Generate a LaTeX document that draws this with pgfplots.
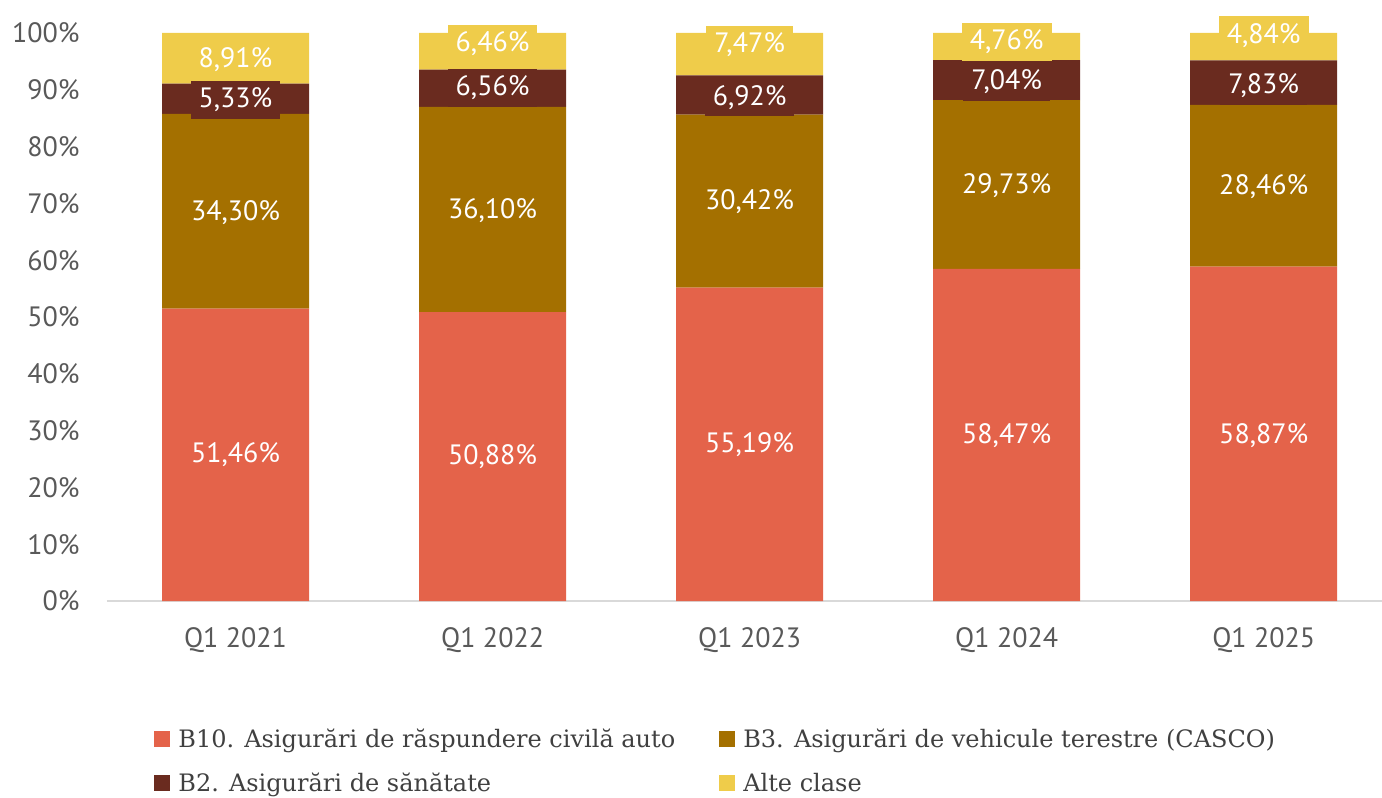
\documentclass[border=0pt]{standalone}
\usepackage{pgfplots}
\usepackage{pgfplotstable}
\pgfplotsset{compat=1.18}
\usepackage{fontspec}
\setmainfont{PT Sans}
\newfontfamily\legfont{DejaVu Serif}
\definecolor{cB10}{HTML}{E4634A}
\definecolor{cB3}{HTML}{A47000}
\definecolor{cB2}{HTML}{6A2B1F}
\definecolor{cAlte}{HTML}{EFCC4A}
\definecolor{tickgray}{HTML}{595959}
\definecolor{leggray}{HTML}{404040}

\pgfplotstableread{
x B10 B3 B2 Alte
0 51.46 34.30 5.33 8.91
1 50.88 36.10 6.56 6.46
2 55.19 30.42 6.92 7.47
3 58.47 29.73 7.04 4.76
4 58.87 28.46 7.83 4.84
}\shares

\pgfplotstableread{
x y label
0 25.73 51,46\%
1 25.44 50,88\%
2 27.60 55,19\%
3 29.20 58,47\%
4 29.20 58,87\%
}\labB

\pgfplotstableread{
x y label
0 68.40 34,30\%
1 68.80 36,10\%
2 70.40 30,42\%
3 73.20 29,73\%
4 72.90 28,46\%
}\labC

\pgfplotstableread{
x y label
0 88.20 5,33\%
1 90.30 6,56\%
2 88.70 6,92\%
3 91.40 7,04\%
4 90.70 7,83\%
}\labD

\pgfplotstableread{
x y label
0 95.40 8,91\%
1 98.10 6,46\%
2 97.90 7,47\%
3 98.40 4,76\%
4 99.60 4,84\%
}\labE

\begin{document}
\begin{tikzpicture}[x=1pt,y=1pt]
\useasboundingbox (-107,-197) rectangle (1275,601);
\pgfplotsset{base/.style={scale only axis, width=1275pt, height=568pt,
  xmin=-0.5, xmax=4.46, ymin=0, ymax=100, clip=false}}
\begin{axis}[base,
  ybar stacked, bar width=147pt,
  axis x line*=bottom, axis y line*=left,
  x axis line style={draw=black!15, line width=1.2pt},
  y axis line style={draw=none},
  major tick length=0pt,
  xtick={0,1,2,3,4},
  xticklabels={Q1 2021,Q1 2022,Q1 2023,Q1 2024,Q1 2025},
  ytick={0,10,...,100},
  yticklabels={0\%,10\%,20\%,30\%,40\%,50\%,60\%,70\%,80\%,90\%,100\%},
  ticklabel style={font=\fontsize{28}{28}\selectfont, text=tickgray},
  yticklabel style={xshift=-24pt},
  xticklabel style={yshift=-23pt},
  legend columns=2,
  legend cell align=left,
  legend image code/.code={\fill[#1] (0pt,-8pt) rectangle (16pt,8pt);},
  legend style={at={(rel axis cs:0.037,-0.222)}, anchor=north west,
    draw=none, fill=none, font=\legfont\fontsize{24}{24}\selectfont, text=leggray,
    /tikz/every odd column/.append style={column sep=6pt},
    /tikz/every even column/.append style={column sep=42pt},
    row sep=20pt, inner sep=0pt},
]
\addplot[fill=cB10, draw=none] table[x=x, y=B10] {\shares};
\addplot[fill=cB3, draw=none] table[x=x, y=B3] {\shares};
\addplot[fill=cB2, draw=none] table[x=x, y=B2] {\shares};
\addplot[fill=cAlte, draw=none] table[x=x, y=Alte] {\shares};
\legend{B10. Asigurări de răspundere civilă auto, B3. Asigurări de vehicule terestre (CASCO), B2. Asigurări de sănătate, Alte clase}
\end{axis}
\begin{axis}[base, hide axis,
  nodes near coords, point meta=explicit symbolic,
  nodes near coords align={center},
  every node near coord/.append style={anchor=center, text=white,
    font=\fontsize{28}{28}\selectfont, inner xsep=8pt, inner ysep=7pt}]
\addplot[draw=none, mark=none, every node near coord/.append style={fill=cB10}] table[x=x, y=y, meta=label] {\labB};
\addplot[draw=none, mark=none, every node near coord/.append style={fill=cB3}] table[x=x, y=y, meta=label] {\labC};
\addplot[draw=none, mark=none, every node near coord/.append style={fill=cAlte}] table[x=x, y=y, meta=label] {\labE};
\addplot[draw=none, mark=none, every node near coord/.append style={fill=cB2}] table[x=x, y=y, meta=label] {\labD};
\end{axis}
\end{tikzpicture}
\end{document}
